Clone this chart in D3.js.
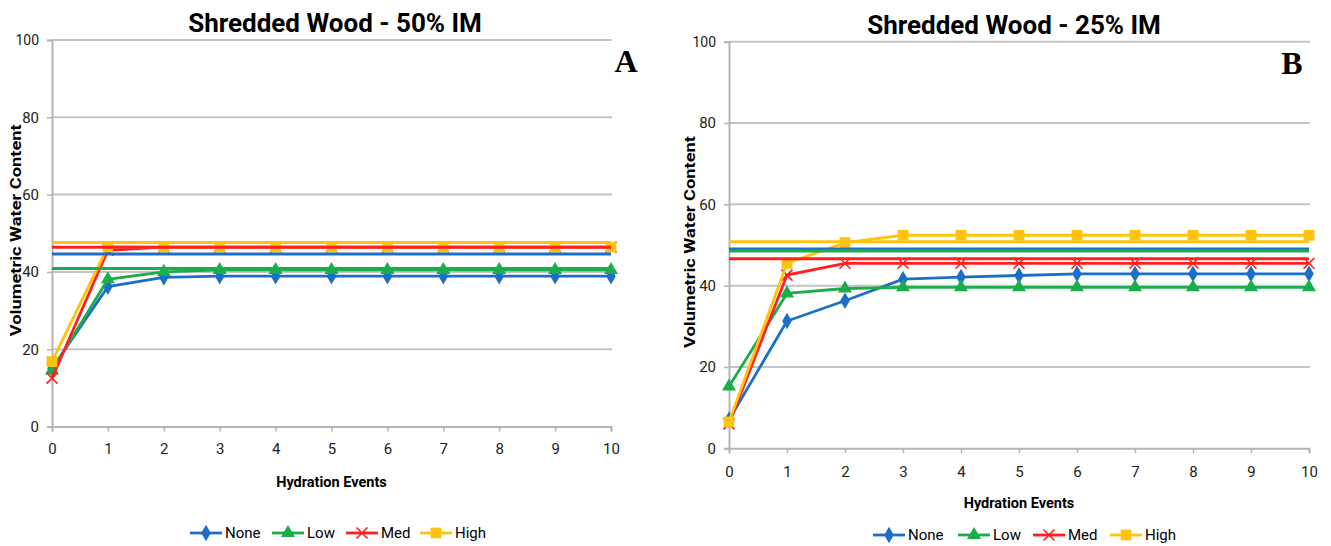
<!DOCTYPE html>
<html>
<head>
<meta charset="utf-8">
<script src="https://cdn.jsdelivr.net/npm/d3@7"></script>
<style>
  body { margin: 0; background: #fff; }
  text { font-family: "Roboto", "Open Sans", sans-serif; }
</style>
</head>
<body>
<div id="vis"></div>
<script>
// hydration events on the x axis
const EVENTS = [0, 1, 2, 3, 4, 5, 6, 7, 8, 9, 10];
const SERIES = ["None", "Low", "Med", "High"];
const Y_TICKS = [0, 20, 40, 60, 80, 100];

// panel A - 50% IM
const NONE_A = [15, 36.2, 38.6, 38.9, 38.9, 38.9, 38.9, 38.9, 38.9, 38.9, 38.9];
const LOW_A  = [14.5, 38.1, 40.0, 40.5, 40.5, 40.5, 40.5, 40.5, 40.5, 40.5, 40.5];
const MED_A  = [12.5, 45.6, 46.4, 46.4, 46.4, 46.4, 46.4, 46.4, 46.4, 46.4, 46.4];
const HIGH_A = [16.8, 46.5, 46.4, 46.4, 46.4, 46.4, 46.4, 46.4, 46.4, 46.4, 46.4];
const REF_A  = [44.6, 40.9, 46.4, 47.6];   // flat lines None, Low, Med, High

// panel B - 25% IM
const NONE_B = [7, 31.3, 36.3, 41.6, 42.1, 42.5, 42.9, 42.9, 42.9, 42.9, 42.9];
const LOW_B  = [15.2, 38.1, 39.3, 39.6, 39.6, 39.6, 39.6, 39.6, 39.6, 39.6, 39.6];
const MED_B  = [6, 42.6, 45.5, 45.5, 45.5, 45.5, 45.5, 45.5, 45.5, 45.5, 45.5];
const HIGH_B = [6.5, 45.5, 50.6, 52.4, 52.4, 52.4, 52.4, 52.4, 52.4, 52.4, 52.4];
const REF_B  = [49.0, 48.5, 46.6, 50.8];

const COLORS = {None: "#1c6fc7", Low: "#1aad4b", Med: "#ff1f1f", High: "#ffc20e"};

const SVG = d3.select("#vis")
              .append("svg")
                .attr("width", 1331)
                .attr("height", 546);

function marker(g, name, x, y) {
  const c = COLORS[name];
  if (name === "Med") {
    const s = 5.5;
    g.append("path")
      .attr("d", `M${x - s},${y - s}L${x + s},${y + s}M${x - s},${y + s}L${x + s},${y - s}`)
      .attr("stroke", c).attr("stroke-width", 1.6).attr("fill", "none");
    return;
  }
  let type = d3.symbolDiamond, size = 80;
  if (name === "Low") { type = d3.symbolTriangle; size = 85; }
  if (name === "High") { type = d3.symbolSquare; size = 115; }
  g.append("path")
    .attr("d", d3.symbol().type(type).size(size)())
    .attr("transform", `translate(${x},${y})`)
    .attr("fill", c);
}

function panel(cfg) {
  const X = d3.scaleLinear().domain([0, 10]).range([cfg.x0, cfg.x1]);
  const Y = d3.scaleLinear().domain([0, 100]).range([cfg.y0, cfg.y1]);
  const g = SVG.append("g");

  // gridlines
  g.selectAll(".grid").data(Y_TICKS.slice(1)).enter()
    .append("line")
      .attr("x1", cfg.x0).attr("x2", cfg.x1 + 1)
      .attr("y1", (d) => Y(d)).attr("y2", (d) => Y(d))
      .attr("stroke", "#c4c4c4").attr("stroke-width", 2);

  // axes
  const yAxis = g.append("g")
    .attr("transform", `translate(${cfg.x0},0)`)
    .call(d3.axisLeft(Y).tickValues(Y_TICKS).tickSize(5).tickPadding(8));
  const xAxis = g.append("g")
    .attr("transform", `translate(0,${cfg.y0})`)
    .call(d3.axisBottom(X).tickValues(EVENTS).tickSize(5).tickPadding(cfg.xPad));
  [yAxis, xAxis].forEach((a) => {
    a.select(".domain").attr("stroke", "#b5b5b5").attr("stroke-width", 2);
    a.selectAll(".tick line").attr("stroke", "#b5b5b5").attr("stroke-width", 1.5);
    a.selectAll(".tick text").attr("font-size", 15).attr("fill", "#222");
  });
  yAxis.select(".tick:last-child text").attr("font-size", 14);

  const line = d3.line().x((d, i) => X(EVENTS[i])).y((d) => Y(d));

  // data series
  SERIES.forEach((name, k) => {
    const vals = cfg.data[k];
    g.append("path")
      .attr("d", line(vals))
      .attr("fill", "none")
      .attr("stroke", COLORS[name])
      .attr("stroke-width", 2.8);
    vals.forEach((v, i) => marker(g, name, X(EVENTS[i]), Y(v)));
  });

  // flat reference lines
  SERIES.forEach((name, k) => {
    g.append("line")
      .attr("x1", X(0)).attr("x2", X(10))
      .attr("y1", Y(cfg.ref[k])).attr("y2", Y(cfg.ref[k]))
      .attr("stroke", COLORS[name])
      .attr("stroke-width", 3);
  });

  // titles
  g.append("text")
    .attr("x", cfg.titleX).attr("y", cfg.titleY)
    .attr("text-anchor", "middle")
    .attr("font-size", 26).attr("font-weight", "bold")
    .text(cfg.title);
  g.append("text")
    .attr("x", cfg.letterX).attr("y", cfg.letterY)
    .attr("text-anchor", "middle")
    .attr("font-size", 32).attr("font-weight", "bold")
    .style("font-family", "'Liberation Serif', serif")
    .text(cfg.letter);
  g.append("text")
    .attr("transform", `translate(${cfg.yLabX},${(cfg.y0 + cfg.y1) / 2 - 3}) rotate(-90)`)
    .attr("text-anchor", "middle")
    .attr("font-size", 15.5).attr("font-weight", "bold")
    .attr("textLength", 212).attr("lengthAdjust", "spacingAndGlyphs")
    .text("Volumetric Water Content");
  g.append("text")
    .attr("x", (cfg.x0 + cfg.x1) / 2).attr("y", cfg.xLabY)
    .attr("text-anchor", "middle")
    .attr("font-size", 14.5).attr("font-weight", "bold")
    .text("Hydration Events");

  // legend
  const spots = cfg.legendX;
  SERIES.forEach((name, k) => {
    const lx = spots[k], ly = cfg.legendY;
    g.append("line")
      .attr("x1", lx).attr("x2", lx + 32)
      .attr("y1", ly).attr("y2", ly)
      .attr("stroke", COLORS[name]).attr("stroke-width", 2.8);
    marker(g, name, lx + 16, ly);
    g.append("text")
      .attr("x", lx + 35).attr("y", ly + 5)
      .attr("font-size", 15)
      .text(name);
  });
}

panel({
  x0: 52, x1: 611, y0: 426.5, y1: 40, xPad: 12,
  data: [NONE_A, LOW_A, MED_A, HIGH_A], ref: REF_A,
  title: "Shredded Wood - 50% IM", titleX: 335, titleY: 32,
  letter: "A", letterX: 626, letterY: 72,
  yLabX: 21, xLabY: 487,
  legendX: [190, 272, 346, 420], legendY: 533
});

panel({
  x0: 729, x1: 1309, y0: 448.3, y1: 41.7, xPad: 13,
  data: [NONE_B, LOW_B, MED_B, HIGH_B], ref: REF_B,
  title: "Shredded Wood - 25% IM", titleX: 1014, titleY: 34,
  letter: "B", letterX: 1292, letterY: 74,
  yLabX: 695, xLabY: 508,
  legendX: [873, 958, 1033, 1110], legendY: 535
});
</script>
</body>
</html>
